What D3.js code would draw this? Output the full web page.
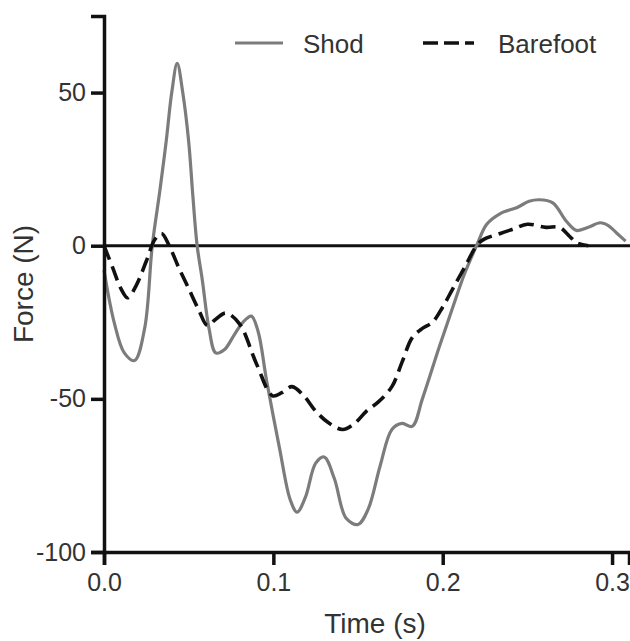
<!DOCTYPE html>
<html>
<head>
<meta charset="utf-8">
<script src="https://cdn.jsdelivr.net/npm/d3@7"></script>
<style>
  html, body { margin: 0; padding: 0; background: #fff; }
  svg { display: block; }
  text { font-family: "Liberation Sans", Arial, Helvetica, sans-serif; fill: #333; }
</style>
</head>
<body>
<svg id="chart" width="630" height="641"></svg>
<script>
// ---- data ----
const shodTime = [0.000, 0.006, 0.012, 0.018, 0.024, 0.0285, 0.033, 0.0367, 0.040, 0.0432, 0.0465, 0.050, 0.0525, 0.055, 0.058, 0.062, 0.066, 0.071, 0.077, 0.082, 0.087, 0.091, 0.096, 0.1036, 0.110, 0.114, 0.119, 0.125, 0.130, 0.136, 0.143, 0.150, 0.156, 0.163, 0.170, 0.176, 0.182, 0.188, 0.198, 0.206, 0.213, 0.220, 0.226, 0.234, 0.244, 0.251, 0.257, 0.265, 0.273, 0.279, 0.286, 0.293, 0.298, 0.303, 0.308];
const shodForce = [-8, -25, -35, -37.5, -27, 0, 18, 34, 50, 59.5, 50, 34, 16, 0, -11, -27, -35, -34, -29, -25, -23, -28, -44, -66, -83, -87, -82, -71, -69, -76, -89, -91, -86, -72, -60, -58, -59, -50, -33, -20, -9, 0, 7, 10.5, 12.5, 14.5, 15, 14, 8, 5, 6, 7.5, 6.5, 4, 1.5];

const barefootTime = [0.000, 0.005, 0.010, 0.014, 0.019, 0.025, 0.030, 0.034, 0.0385, 0.044, 0.050, 0.056, 0.061, 0.066, 0.072, 0.080, 0.090, 0.0995, 0.105, 0.111, 0.118, 0.125, 0.133, 0.141, 0.148, 0.155, 0.162, 0.170, 0.176, 0.182, 0.188, 0.194, 0.200, 0.206, 0.213, 0.220, 0.224, 0.234, 0.242, 0.250, 0.261, 0.269, 0.275, 0.279, 0.286];
const barefootForce = [0, -7, -14, -17, -13, -5, 2, 4, 0, -7, -14, -21, -26, -24, -22, -25.5, -38.5, -49, -48, -46, -49, -54, -58, -60, -58, -54, -51, -46, -38, -30, -27, -25, -20, -14, -7, 0, 2, 4, 5.5, 7, 6, 6, 3, 1, 0];

const xTicks = [0, 0.1, 0.2, 0.3];
const yTicks = [-100, -50, 0, 50];
const seriesNames = ["Shod", "Barefoot"];
const xTitle = "Time (s)";
const yTitle = "Force (N)";

// ---- build ----
const svg = d3.select("#chart");
const x = d3.scaleLinear().domain([0, 0.31]).range([104, 629]);
const y = d3.scaleLinear().domain([-100, 75]).range([552, 16]);

const shod = shodTime.map((t, i) => ({t, f: shodForce[i]}));
const bare = barefootTime.map((t, i) => ({t, f: barefootForce[i]}));

const line = d3.line()
  .x(d => x(d.t))
  .y(d => y(d.f))
  .curve(d3.curveCatmullRom.alpha(0.5));

// zero line
svg.append("line")
  .attr("x1", x(0)).attr("x2", 630)
  .attr("y1", y(0)).attr("y2", y(0))
  .attr("stroke", "#111").attr("stroke-width", 3);

// series
svg.append("path").datum(shod)
  .attr("d", line)
  .attr("fill", "none")
  .attr("stroke", "#7c7c7c")
  .attr("stroke-width", 3.2);

svg.append("path").datum(bare)
  .attr("d", line)
  .attr("fill", "none")
  .attr("stroke", "#111")
  .attr("stroke-width", 3.6)
  .attr("stroke-dasharray", "15,7");

// axes
const xAxis = svg.append("g")
  .attr("transform", `translate(0,${y(-100)})`)
  .call(d3.axisBottom(x).tickValues(xTicks).tickFormat(d3.format(".1f")).tickSizeOuter(0).tickSize(13).tickPadding(8));
const yAxis = svg.append("g")
  .attr("transform", `translate(${x(0)},0)`)
  .call(d3.axisLeft(y).tickValues(yTicks).tickFormat(d3.format("d")).tickSizeOuter(0).tickSize(13).tickPadding(5));

[xAxis, yAxis].forEach(g => {
  g.select(".domain").attr("stroke", "#111").attr("stroke-width", 3.5);
  g.selectAll(".tick line").attr("stroke", "#111").attr("stroke-width", 3.5);
  g.selectAll(".tick text").attr("fill", "#333")
    .style("font-size", "25px")
    .style("font-family", "'Liberation Sans', Arial, sans-serif");
});
yAxis.selectAll(".tick text").text(d => d === -100 ? "-100" : d === -50 ? "-50" : d);

// titles
svg.append("text")
  .attr("x", 375).attr("y", 633)
  .attr("text-anchor", "middle")
  .style("font-size", "28px")
  .text(xTitle);

svg.append("text")
  .attr("transform", "translate(33,284) rotate(-90)")
  .attr("text-anchor", "middle")
  .style("font-size", "28px")
  .text(yTitle);

// legend
const leg = svg.append("g");
leg.append("line")
  .attr("x1", 235).attr("x2", 283).attr("y1", 43).attr("y2", 43)
  .attr("stroke", "#7c7c7c").attr("stroke-width", 3.2);
leg.append("text").attr("x", 303).attr("y", 53)
  .style("font-size", "26px").text(seriesNames[0]);
leg.append("line")
  .attr("x1", 423).attr("x2", 474).attr("y1", 43).attr("y2", 43)
  .attr("stroke", "#111").attr("stroke-width", 3.6)
  .attr("stroke-dasharray", "15,6");
leg.append("text").attr("x", 498).attr("y", 53)
  .style("font-size", "26px").text(seriesNames[1]);
</script>
</body>
</html>
